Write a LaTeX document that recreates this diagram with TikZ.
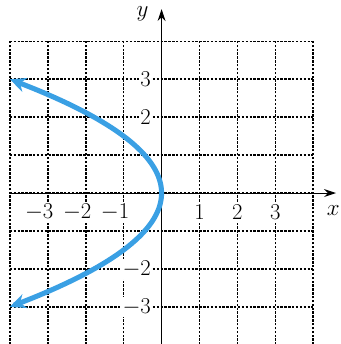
\documentclass[tikz,border=0pt]{standalone}
\usetikzlibrary{arrows.meta}
\definecolor{curveblue}{RGB}{58,160,228}
\begin{document}
\begin{tikzpicture}[
  gridline/.style={line width=1.25pt, dash pattern=on 1.8pt off 1.1pt, black},
  axisline/.style={line width=0.8pt, black, -{Stealth[length=9pt,width=6pt]}},
  ticklab/.style={fill=white, inner sep=1pt, font=\fontsize{17}{20}\selectfont},
  axislab/.style={font=\fontsize{17}{20}\selectfont\itshape, inner sep=0pt}
]
\useasboundingbox (-4.26,-3.98) rectangle (4.71,5.09);
% grid
\foreach \i in {-4,...,4} {
  \draw[gridline] (\i,-4) -- (\i,4);
  \draw[gridline] (-4,\i) -- (4,\i);
}
% tick labels
\foreach \v in {1,2,3} {
  \node[ticklab] (xp\v) at (\v,-0.5) {\v};
  \node[ticklab, anchor=east] (xm\v) at (-\v+0.19,-0.5) {$-$\v};
}
\foreach \v in {2,3} {
  \node[ticklab, anchor=east] (yp\v) at (-0.24,\v) {\v};
  \node[ticklab, anchor=east] (ym\v) at (-0.24,-\v) {$-$\v};
}
% axes
\coordinate (xs) at (-4,0);
\coordinate (xe) at (4.6,0);
\coordinate (ys) at (0,-4);
\coordinate (ye) at (0,4.85);
\draw[axisline] (xs) -- (xe);
\draw[axisline] (ys) -- (ye);
\node[axislab] (xl) at (4.53,-0.45) {$x$};
\node[axislab] (yl) at (-0.5,4.72) {$y$};
% curve
\draw[curveblue, line width=3.8pt, {Stealth[length=12pt,width=11pt]}-{Stealth[length=12pt,width=11pt]}]
  plot[domain=3:-3, samples=80, smooth] ({-4*\x*\x/9},\x);
\end{tikzpicture}
\end{document}
